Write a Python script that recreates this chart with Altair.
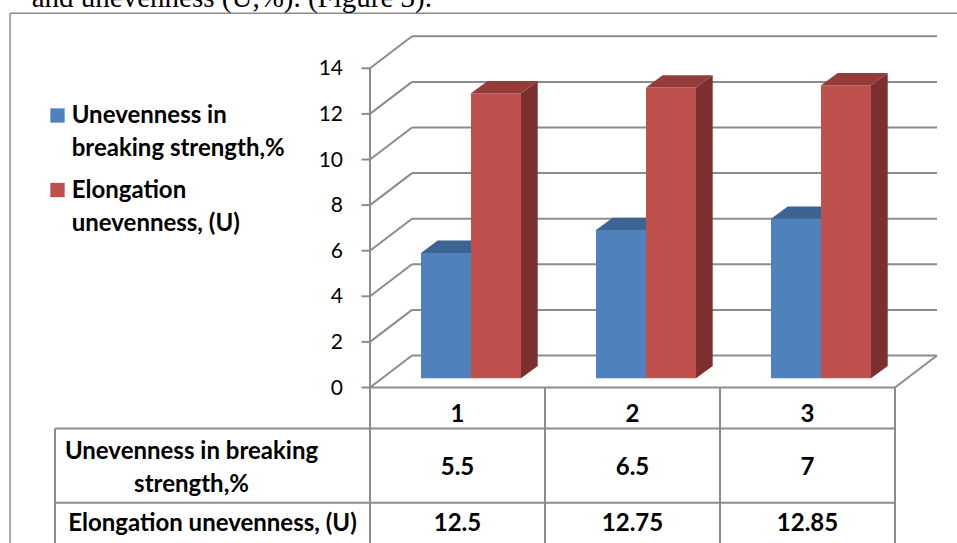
import altair as alt
import pandas as pd

# ---------------- data ----------------
categories = [1, 2, 3]
category_labels = ["1", "2", "3"]
series_names = ["Unevenness in breaking strength,%", "Elongation unevenness, (U)"]
breaking_unevenness = [5.5, 6.5, 7]
elongation_unevenness = [12.5, 12.75, 12.85]
y_ticks = [0, 2, 4, 6, 8, 10, 12, 14]
legend_texts = ["Unevenness in\nbreaking strength,%", "Elongation\nunevenness, (U)"]
row_labels = ["Unevenness in breaking\nstrength,%", "Elongation unevenness, (U)"]
caption = "and unevenness (U,%). (Figure 3)."

series_values = [breaking_unevenness, elongation_unevenness]

# ---------------- styles / layout ----------------
front_colors = ["#4F81BD", "#C0504D"]
top_colors = ["#3C6391", "#943C3A"]
side_colors = ["#2F4E73", "#7C2F2E"]
GRID = "#8C8C8C"
FONT = "Lato"
BOLD_SIZE = 24

W, H = 957, 543
AXIS_PX = 370.0     # pixel x of the category boundary 0.5
CAT_PX = 175.0      # pixels per category
ZERO_PX = 387.5     # pixel y of value 0 on the front plane
UNIT_PX = 22.8      # pixels per value unit
WALL_DX, WALL_DY = 42.0, 32.0   # depth of the floor / walls
BF_DX, BF_DY = 13.5, 9.2        # front plane of the bars
BD_DX, BD_DY = 16.7, 12.3       # depth of each bar
BAR_W = 50.0


def cx(px):
    return 0.5 + (px - AXIS_PX) / CAT_PX


def vy(px):
    return (ZERO_PX - px) / UNIT_PX


def ddx(px):
    return px / CAT_PX


def ddy(px):
    return px / UNIT_PX


xs = alt.Scale(domain=[cx(0), cx(W)], nice=False, zero=False)
ys = alt.Scale(domain=[vy(H), vy(0)], nice=False, zero=False)


def X(f):
    return alt.X(f, type="quantitative", scale=xs, axis=None)


def Y(f):
    return alt.Y(f, type="quantitative", scale=ys, axis=None, stack=None)


color_scale = alt.Scale(domain=series_names, range=front_colors)

# ---------------- walls, floor, axis and table lines ----------------
lines = []
n = len(categories)
left_c, right_c = 0.5, n + 0.5
for v in y_ticks:
    lines.append((left_c + ddx(WALL_DX), v + ddy(WALL_DY), right_c + ddx(WALL_DX), v + ddy(WALL_DY)))
    lines.append((left_c, v, left_c + ddx(WALL_DX), v + ddy(WALL_DY)))
    lines.append((cx(361.5), v, left_c, v))
lines.append((right_c, 0, right_c + ddx(WALL_DX), ddy(WALL_DY)))
lines.append((left_c, 0, right_c, 0))
lines.append((left_c, max(y_ticks), left_c, vy(H)))
for b in range(1, n + 1):
    lines.append((b + 0.5, 0, b + 0.5, vy(H)))
for rpx in [428.5, 502.7]:
    lines.append((cx(55), vy(rpx), right_c, vy(rpx)))
lines.append((cx(55), vy(428.5), cx(55), vy(H)))
lines_df = pd.DataFrame(lines, columns=["x", "y", "x2", "y2"])

grid = alt.Chart(lines_df).mark_rule(color=GRID, strokeWidth=2).encode(
    x=X("x"), y=Y("y"), x2="x2", y2="y2"
)

# ---------------- bars (3D faces) ----------------
bar_layers = []
for k, (s, vals) in enumerate(zip(series_names, series_values)):
    fronts, tops, sides = [], [], []
    for c, v in zip(categories, vals):
        left = c + ddx(BF_DX) + (k - 1) * ddx(BAR_W)
        right = left + ddx(BAR_W)
        base = ddy(BF_DY)
        top = v + ddy(BF_DY)
        fronts.append({"series": s, "cat": c, "xl": left, "xr": right, "y0": base, "y1": top})
        fid = f"{k}-{c}"
        tops.append({"face": fid, "y": top, "xa": left, "xb": right})
        tops.append({"face": fid, "y": top + ddy(BD_DY), "xa": left + ddx(BD_DX), "xb": right + ddx(BD_DX)})
        sides.append({"face": fid, "x": right, "ya": top, "yb": base})
        sides.append({"face": fid, "x": right + ddx(BD_DX), "ya": top + ddy(BD_DY), "yb": base + ddy(BD_DY)})
    side = alt.Chart(pd.DataFrame(sides)).mark_area(orient="vertical", color=side_colors[k]).encode(
        x=X("x"), y=Y("ya"), y2="yb", detail="face:N"
    )
    front = alt.Chart(pd.DataFrame(fronts)).mark_rect().encode(
        x=X("xl"), x2="xr", y=Y("y0"), y2="y1",
        color=alt.Color("series:N", scale=color_scale, legend=None),
    )
    topf = alt.Chart(pd.DataFrame(tops)).mark_area(orient="horizontal", color=top_colors[k]).encode(
        y=Y("y"), x=X("xa"), x2="xb", detail="face:N"
    )
    bar_layers += [side, front, topf]

# ---------------- axis labels ----------------
tick_df = pd.DataFrame({"v": y_ticks, "label": [str(t) for t in y_ticks], "x": cx(343)})
tick_text = alt.Chart(tick_df).mark_text(
    align="right", baseline="middle", font=FONT, fontSize=21, color="black", dy=1
).encode(x=X("x"), y=Y("v"), text="label:N")

# ---------------- data table ----------------
hdr_df = pd.DataFrame({"c": categories, "label": category_labels, "y": vy(422.3)})
hdr = alt.Chart(hdr_df).mark_text(
    align="center", baseline="alphabetic", font=FONT, fontSize=BOLD_SIZE, fontWeight="bold", color="black"
).encode(x=X("c"), y=Y("y"), text="label:N")

val_rows = []
for vals, ypx in zip(series_values, [475.0, 530.5]):
    for c, v in zip(categories, vals):
        val_rows.append({"c": c, "y": vy(ypx), "label": f"{v:g}"})
vals_text = alt.Chart(pd.DataFrame(val_rows)).mark_text(
    align="center", baseline="alphabetic", font=FONT, fontSize=BOLD_SIZE, fontWeight="bold", color="black"
).encode(x=X("c"), y=Y("y"), text="label:N")

row_df = pd.DataFrame({
    "label": row_labels,
    "x": [cx(191.5), cx(212.5)],
    "y": [vy(459.0), vy(530.5)],
})
row_text = alt.Chart(row_df).mark_text(
    align="center", baseline="alphabetic", font=FONT, fontSize=BOLD_SIZE, fontWeight="bold",
    color="black", lineBreak="\n", lineHeight=32.5
).encode(x=X("x"), y=Y("y"), text="label:N")

# ---------------- legend ----------------
leg_df = pd.DataFrame({
    "series": series_names,
    "label": legend_texts,
    "sx": cx(57.5),
    "sy": [vy(115.5), vy(190.0)],
    "tx": cx(71.7),
    "ty": [vy(123.3), vy(198.3)],
})
leg_sym = alt.Chart(leg_df).mark_square(size=205, opacity=1).encode(
    x=X("sx"), y=Y("sy"), color=alt.Color("series:N", scale=color_scale, legend=None)
)
leg_txt = alt.Chart(leg_df).mark_text(
    align="left", baseline="alphabetic", font=FONT, fontSize=BOLD_SIZE, fontWeight="bold",
    color="black", lineBreak="\n", lineHeight=33
).encode(x=X("tx"), y=Y("ty"), text="label:N")

# ---------------- page decoration ----------------
one = pd.DataFrame({"t": [caption]})
frame_top = alt.Chart(one).mark_rule(color=GRID, strokeWidth=1.5).encode(
    x=alt.value(10), x2=alt.value(W), y=alt.value(13.3), y2=alt.value(13.3)
)
frame_left = alt.Chart(one).mark_rule(color=GRID, strokeWidth=1.5).encode(
    x=alt.value(10), x2=alt.value(10), y=alt.value(13.3), y2=alt.value(H)
)
cap = alt.Chart(one).mark_text(
    align="right", baseline="alphabetic", font="Liberation Serif", fontSize=29, color="black"
).encode(x=alt.value(432), y=alt.value(7), text="t:N")

chart = alt.layer(
    frame_top, frame_left, cap, grid, *bar_layers, tick_text, hdr, vals_text, row_text, leg_sym, leg_txt
).properties(
    width=W, height=H, padding=0, autosize=alt.AutoSizeParams(type="none"), background="white"
).configure_view(stroke=None)

chart.save("out.html", embed_options={"renderer": "svg", "actions": False})
